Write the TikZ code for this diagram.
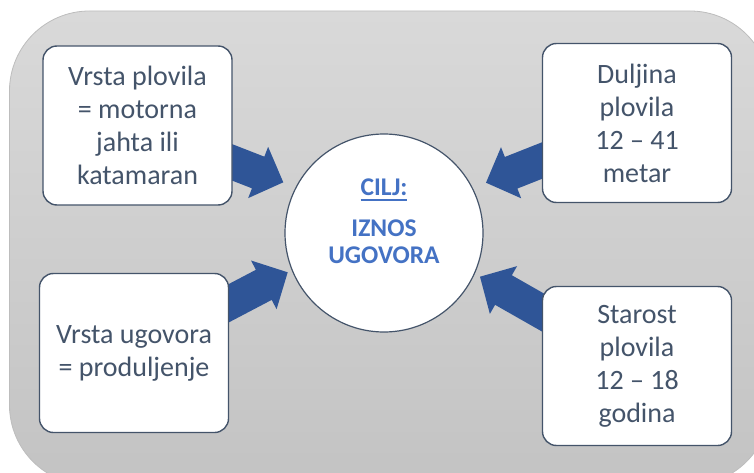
\documentclass[tikz,border=0pt]{standalone}
\usepackage{fontspec}
\setmainfont{Carlito}
\usetikzlibrary{calc,backgrounds}

\definecolor{slate}{HTML}{44546A}
\definecolor{arrowblue}{HTML}{2F5597}
\definecolor{goalblue}{HTML}{4472C4}
\definecolor{paneltop}{HTML}{D9D9D9}
\definecolor{panelbot}{HTML}{C3C3C3}
\definecolor{paneledge}{HTML}{BDBDBD}

% underline set a little below the baseline
\newcommand\goalunderline[1]{\setbox0\hbox{#1}\rlap{\color{goalblue}\rule[-6pt]{\wd0}{1.7pt}}\box0}

\begin{document}
\begin{tikzpicture}[x=1pt,y=-1pt,
  factor/.style={draw=slate, line width=1.4pt, fill=white, rounded corners=14pt,
    text=slate, align=center, inner sep=0pt,
    minimum width=189pt, minimum height=159pt,
    font=\fontsize{28}{33}\selectfont},
  goal/.style={circle, draw=slate, line width=1.2pt, fill=white,
    minimum size=198pt, inner sep=0pt},
  goaltext/.style={align=center, text=goalblue, inner sep=0pt,
    font=\bfseries\fontsize{25.5}{26.6}\selectfont},
  push/.style={fill=arrowblue},
  panel/.style={top color=paneltop, bottom color=panelbot, draw=paneledge,
    line width=0.8pt, rounded corners=80pt}]

\useasboundingbox (0,0) rectangle (754,473);
\clip (0,0) rectangle (754,473);

% goal in the middle
\node[goal] (goal) at (384,233) {};
\node[goaltext] (goaltxt) at ([yshift=12pt]goal.center)
  {\goalunderline{CILJ:}\\[15pt]IZNOS\\UGOVORA};

% the four factors
\node[factor] (b1) at (137.5,125.5) {Vrsta plovila\\= motorna\\jahta ili\\katamaran};
\node[factor] (b2) at (637,123) {Duljina\\plovila\\12 – 41\\metar};
\node[factor] (b3) at (134,353) {Vrsta ugovora\\= produljenje};
\node[factor] (b4) at (637,366) {Starost\\plovila\\12 – 18\\godina};

% arrow tips just short of the circle
\coordinate (t1) at (283.3,182.3);
\coordinate (t2) at (486,182.7);
\coordinate (t3) at (287.7,272.3);
\coordinate (t4) at (480,276.7);

\begin{scope}[on background layer]
  \path[panel] (9.5,11) rectangle (770,485);
  % block arrows from each factor's centre to its tip: shaft 34, head 55 wide, 27 long
  \foreach \b/\t in {b1/t1,b2/t2,b3/t3,b4/t4} {
    \coordinate (\t-base) at ($(\t)!27pt!(\b.center)$);
    \fill[push] ($(\b.center)!17pt!90:(\t)$)
      -- ($(\t-base)!17pt!90:(\t)$)
      -- ($(\t-base)!27.5pt!90:(\t)$)
      -- (\t)
      -- ($(\t-base)!27.5pt!-90:(\t)$)
      -- ($(\t-base)!17pt!-90:(\t)$)
      -- ($(\b.center)!17pt!-90:(\t)$)
      -- cycle;
  }
\end{scope}
\end{tikzpicture}
\end{document}
